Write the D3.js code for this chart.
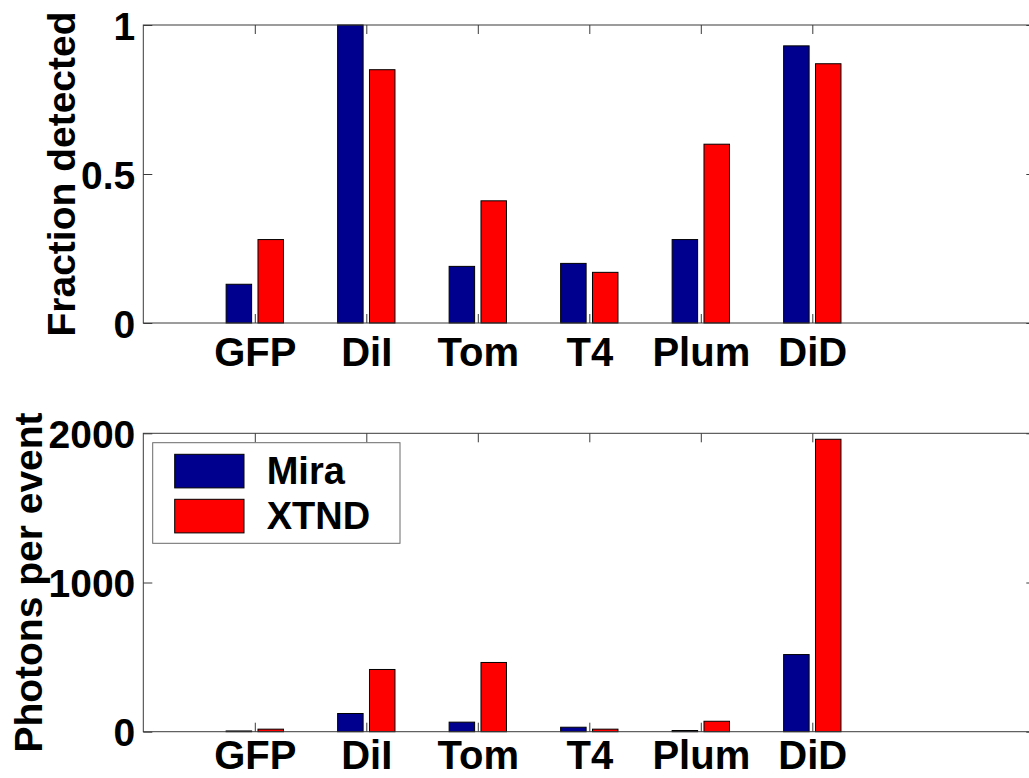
<!DOCTYPE html>
<html>
<head>
<meta charset="utf-8">
<script src="https://cdn.jsdelivr.net/npm/d3@7/dist/d3.min.js"></script>
<style>
  html, body { margin: 0; padding: 0; background: #fff; overflow: hidden; }
  svg { display: block; }
  text { font-family: "Liberation Sans", Arial, sans-serif; font-weight: bold; fill: #000; }
</style>
</head>
<body>
<svg id="chart" width="1029" height="778"></svg>
<script>
// Dyes compared between the two setups
const categories = ["GFP", "DiI", "Tom", "T4", "Plum", "DiD"];
const seriesNames = ["Mira", "XTND"];
const seriesColors = ["#00008f", "#ff0000"];

// Fraction of events detected
const fractionMira = [0.13, 1.00, 0.19, 0.20, 0.28, 0.93];
const fractionXTND = [0.28, 0.85, 0.41, 0.17, 0.60, 0.87];

// Photons collected per event
const photonsMira = [5, 122, 64, 30, 8, 517];
const photonsXTND = [17, 417, 464, 17, 70, 1960];

// Tick labels
const fractionTicks = [0, 0.5, 1];
const photonTicks = [0, 1000, 2000];

const svg = d3.select("#chart");
const XFONT = 40, YFONT = 39, TITLEFONT = 39, LEGFONT = 38;
const axisColor = "#3a3a3a";

// Shared horizontal scale: categories sit at 1..6 on a 0..8 range
const x = d3.scaleLinear().domain([0, 8]).range([143.3, 1035.3]);
const unit = x(1) - x(0);
const nSeries = 2;
const groupWidth = Math.min(0.8, nSeries / (nSeries + 1.5));
const barW = 0.8 * groupWidth / nSeries * unit;
const offsets = [-groupWidth / 4, groupWidth / 4];

function panel(opts) {
  const { top, bottom, yMax, ticks, seriesVals, label, labelX, tickPad } = opts;
  const y = d3.scaleLinear().domain([0, yMax]).range([bottom, top]);
  const g = svg.append("g");

  // white plot area
  g.append("rect")
    .attr("x", x(0)).attr("y", top)
    .attr("width", x(8) - x(0)).attr("height", bottom - top)
    .attr("fill", "#fff");

  // bars
  seriesVals.forEach((vals, s) => {
    g.append("g").selectAll("rect")
      .data(vals)
      .join("rect")
      .attr("x", (d, i) => x(i + 1 + offsets[s]) - barW / 2)
      .attr("y", d => y(d))
      .attr("width", barW)
      .attr("height", d => y(0) - y(d))
      .attr("fill", seriesColors[s])
      .attr("stroke", "#000")
      .attr("stroke-width", 1);
  });

  const idx = categories.map((c, i) => i + 1);

  const styleAxis = size => sel => {
    sel.selectAll("path.domain").remove();
    sel.selectAll("line").attr("stroke", axisColor);
    sel.selectAll("text").style("font-size", size + "px").attr("fill", "#000");
  };

  // bottom axis with category labels
  g.append("g")
    .attr("transform", `translate(0,${bottom})`)
    .call(d3.axisBottom(x).tickValues(idx).tickFormat(i => categories[i - 1])
      .tickSize(-9).tickPadding(tickPad))
    .call(styleAxis(XFONT));

  // top axis ticks
  g.append("g")
    .attr("transform", `translate(0,${top})`)
    .call(d3.axisTop(x).tickValues(idx).tickFormat("").tickSize(-9))
    .call(styleAxis(XFONT));

  // left axis
  g.append("g")
    .attr("transform", `translate(${x(0)},0)`)
    .call(d3.axisLeft(y).tickValues(ticks).tickFormat(d3.format("")).tickSize(-9).tickPadding(8))
    .call(styleAxis(YFONT))
    .call(a => a.selectAll("text").attr("dy", "0.36em"));

  // right axis ticks
  g.append("g")
    .attr("transform", `translate(${x(8)},0)`)
    .call(d3.axisRight(y).tickValues(ticks).tickFormat("").tickSize(-9))
    .call(styleAxis(YFONT));

  // box
  g.append("rect")
    .attr("x", x(0)).attr("y", top)
    .attr("width", x(8) - x(0)).attr("height", bottom - top)
    .attr("fill", "none")
    .attr("stroke", axisColor)
    .attr("stroke-width", 1);

  // y axis title
  g.append("text")
    .attr("transform", `translate(${labelX},${(top + bottom) / 2}) rotate(-90)`)
    .attr("text-anchor", "middle")
    .style("font-size", TITLEFONT + "px")
    .text(label);

  return { g, y };
}

panel({
  top: 25, bottom: 323, yMax: 1, ticks: fractionTicks,
  seriesVals: [fractionMira, fractionXTND],
  label: "Fraction detected", labelX: 75, tickPad: 15
});

const lower = panel({
  top: 433.3, bottom: 731.7, yMax: 2000, ticks: photonTicks,
  seriesVals: [photonsMira, photonsXTND],
  label: "Photons per event", labelX: 42, tickPad: 9
});

// legend
const leg = lower.g.append("g").attr("transform", "translate(152.7,442.7)");
leg.append("rect")
  .attr("width", 247.3).attr("height", 100.6)
  .attr("fill", "#fff").attr("stroke", "#6a6a6a").attr("stroke-width", 1);
seriesNames.forEach((name, i) => {
  const row = leg.append("g").attr("transform", `translate(0,${11.6 + i * 45})`);
  row.append("rect")
    .attr("x", 22).attr("y", 0)
    .attr("width", 69.3).attr("height", 33.6)
    .attr("fill", seriesColors[i]).attr("stroke", "#000").attr("stroke-width", 1);
  row.append("text")
    .attr("x", 114).attr("y", 29.2)
    .style("font-size", LEGFONT + "px")
    .text(name);
});
</script>
</body>
</html>
